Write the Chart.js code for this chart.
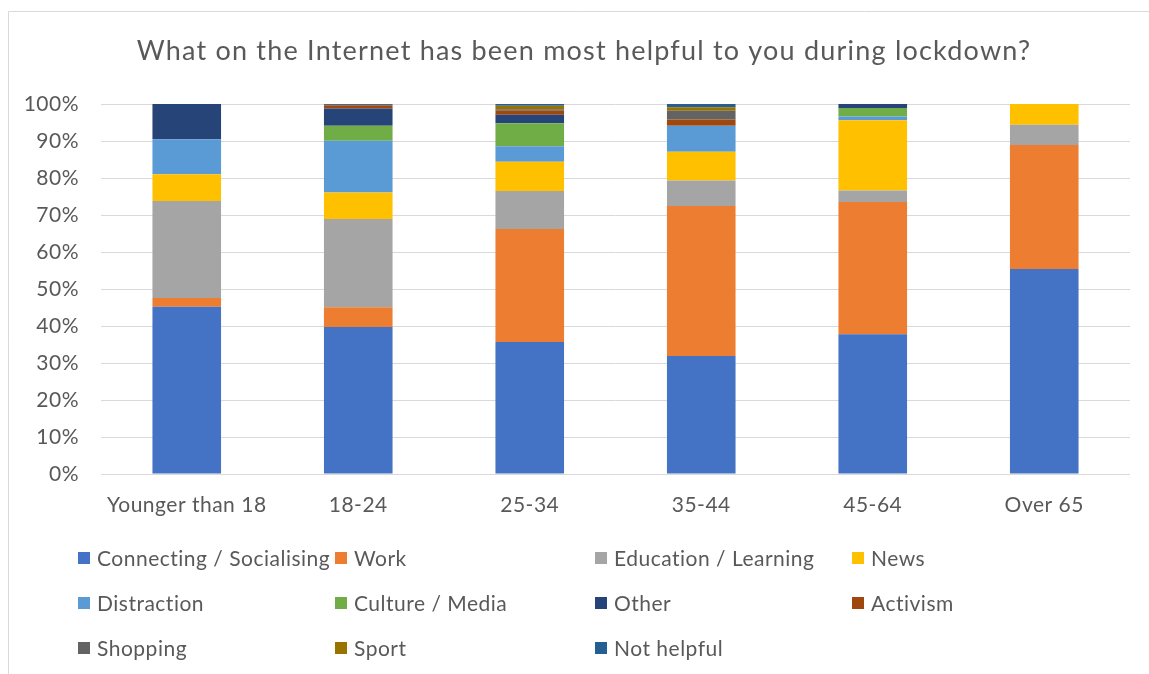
<!DOCTYPE html>
<html>
<head>
<meta charset="utf-8">
<script src="https://cdn.jsdelivr.net/npm/chart.js@4/dist/chart.umd.min.js"></script>
<style>
  html, body { margin: 0; padding: 0; background: #ffffff; }
  #wrap { width: 1149px; height: 674px; }
</style>
</head>
<body>
<div id="wrap"><canvas id="chart" width="1149" height="674"></canvas></div>
<script>
// Survey answers by age group, share of respondents (%)
const categories = ["Younger than 18", "18-24", "25-34", "35-44", "45-64", "Over 65"];
const connecting = [45.2, 39.7, 35.7, 31.9, 37.8, 55.4];
const work = [2.4, 5.4, 30.5, 40.5, 35.7, 33.5];
const education = [26.2, 23.8, 10.3, 6.9, 3.1, 5.5];
const news = [7.2, 7.2, 7.9, 7.8, 19.0, 5.6];
const distraction = [9.5, 14.0, 4.2, 7.0, 1.0, 0];
const culture = [0, 4.0, 6.2, 0, 2.3, 0];
const other = [9.5, 4.7, 2.3, 0, 1.1, 0];
const activism = [0, 0.7, 1.1, 1.7, 0, 0];
const shopping = [0, 0.5, 0.4, 2.4, 0, 0];
const sport = [0, 0, 0.9, 0.9, 0, 0];
const notHelpful = [0, 0, 0.5, 0.9, 0, 0];
const yTicks = [0, 10, 20, 30, 40, 50, 60, 70, 80, 90, 100];

const FONT = "Lato, 'Open Sans', sans-serif";
const TEXT = "#595959";
const SPACING = "0.5px";

const series = [
  { label: "Connecting / Socialising", data: connecting, color: "#4472C4" },
  { label: "Work", data: work, color: "#ED7D31" },
  { label: "Education / Learning", data: education, color: "#A5A5A5" },
  { label: "News", data: news, color: "#FFC000" },
  { label: "Distraction", data: distraction, color: "#5B9BD5" },
  { label: "Culture / Media", data: culture, color: "#70AD47" },
  { label: "Other", data: other, color: "#264478" },
  { label: "Activism", data: activism, color: "#9E480E" },
  { label: "Shopping", data: shopping, color: "#636363" },
  { label: "Sport", data: sport, color: "#997300" },
  { label: "Not helpful", data: notHelpful, color: "#255E91" }
];

// Frame, title and the four-column legend
const decor = {
  id: "decor",
  beforeDraw(chart) {
    const ctx = chart.ctx;
    ctx.save();
    ctx.fillStyle = "#ffffff";
    ctx.fillRect(0, 0, chart.width, chart.height);
    ctx.strokeStyle = "#d9d9d9";
    ctx.lineWidth = 1;
    ctx.beginPath();
    ctx.moveTo(8.5, chart.height + 2);
    ctx.lineTo(8.5, 11.5);
    ctx.lineTo(chart.width + 2, 11.5);
    ctx.stroke();
    ctx.restore();
    // slightly open tracking for the axis labels
    ctx.letterSpacing = SPACING;
  },
  afterDraw(chart) {
    const ctx = chart.ctx;
    ctx.save();
    ctx.fillStyle = TEXT;
    ctx.textBaseline = "middle";
    ctx.textAlign = "center";
    ctx.letterSpacing = "1.2px";
    ctx.font = "27px " + FONT;
    ctx.fillText("What on the Internet has been most helpful to you during lockdown?", 584, 51);

    const cols = [78, 335, 595, 852];
    const rows = [558, 603, 648];
    ctx.textAlign = "left";
    ctx.letterSpacing = SPACING;
    ctx.font = "21px " + FONT;
    chart.data.datasets.forEach((ds, i) => {
      const x = cols[i % 4];
      const y = rows[Math.floor(i / 4)];
      ctx.fillStyle = ds.backgroundColor;
      ctx.fillRect(x, y - 6, 12, 12);
      ctx.fillStyle = TEXT;
      ctx.fillText(ds.label, x + 19, y + 1);
    });
    ctx.restore();
  }
};

new Chart(document.getElementById("chart"), {
  type: "bar",
  data: {
    labels: categories,
    datasets: series.map(s => ({
      label: s.label,
      data: s.data,
      backgroundColor: s.color,
      borderWidth: 0,
      categoryPercentage: 1.0,
      barPercentage: 0.4
    }))
  },
  options: {
    responsive: false,
    animation: false,
    layout: { padding: { top: 104, right: 19, left: 0, bottom: 0 } },
    plugins: {
      legend: { display: false },
      title: { display: false },
      tooltip: { enabled: false }
    },
    scales: {
      x: {
        stacked: true,
        grid: { display: false, drawTicks: false },
        border: { display: false },
        ticks: { color: TEXT, font: { family: FONT, size: 21 }, padding: 19, maxRotation: 0 },
        afterFit(scale) { scale.height = 200; }
      },
      y: {
        stacked: true,
        min: 0,
        max: 100,
        afterBuildTicks(scale) { scale.ticks = yTicks.map(v => ({ value: v })); },
        grid: { color: "#d9d9d9", lineWidth: 1, drawTicks: false },
        border: { display: false },
        ticks: {
          color: TEXT,
          font: { family: FONT, size: 21 },
          padding: 22,
          callback: v => v + "%"
        },
        afterFit(scale) { scale.width = 101; }
      }
    }
  },
  plugins: [decor]
});
</script>
</body>
</html>
